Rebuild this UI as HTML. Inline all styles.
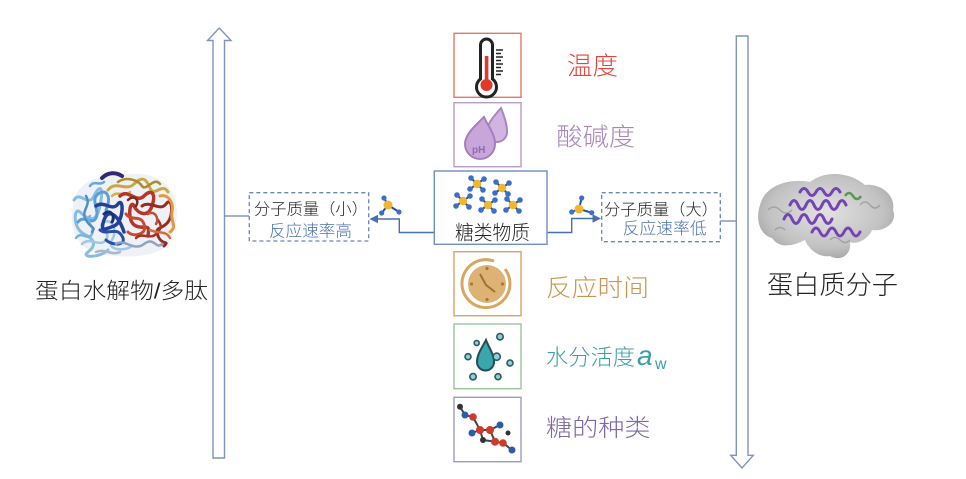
<!DOCTYPE html>
<html><head><meta charset="utf-8">
<style>
html,body{margin:0;padding:0;background:#fff;}
svg{display:block;}
text{font-family:"Liberation Sans","Noto Sans CJK SC",sans-serif;font-weight:300;}
</style></head>
<body>
<svg width="966" height="479" viewBox="0 0 966 479" xmlns="http://www.w3.org/2000/svg">
<defs>
<radialGradient id="gblob" cx="50%" cy="45%" r="60%">
<stop offset="0" stop-color="#e2e2e2"/><stop offset="0.7" stop-color="#c2c2c2"/><stop offset="1" stop-color="#a2a2a2"/>
</radialGradient>
<g id="mol">
<line x1="0" y1="0" x2="-6" y2="-6" stroke="#2b4f95" stroke-width="2"/>
<line x1="0" y1="0" x2="7" y2="-5" stroke="#2b4f95" stroke-width="2"/>
<line x1="0" y1="0" x2="-7" y2="5" stroke="#2b4f95" stroke-width="2"/>
<line x1="0" y1="0" x2="6" y2="6" stroke="#2b4f95" stroke-width="2"/>
<circle cx="0" cy="0" r="4.2" fill="#f0b632"/>
<circle cx="-6" cy="-6" r="2.8" fill="#3c6fc6"/>
<circle cx="7" cy="-5" r="2.8" fill="#3c6fc6"/>
<circle cx="-7" cy="5" r="2.8" fill="#3c6fc6"/>
<circle cx="6" cy="6" r="2.8" fill="#3c6fc6"/>
</g>
</defs>

<!-- big arrows -->
<path d="M213,458 L213,40.5 L207.5,40.5 L219.3,28 L231,40.5 L224.5,40.5 L224.5,458 Z" fill="#fff" stroke="#7f92c4" stroke-width="1.4"/>
<path d="M736.3,36 L748,36 L748,455.3 L753.3,455.3 L742,468 L730.7,455.3 L736.3,455.3 Z" fill="#fff" stroke="#7f92c4" stroke-width="1.4"/>

<!-- connectors to arrows -->
<line x1="224.5" y1="216" x2="249" y2="216" stroke="#6a85b8" stroke-width="1.3"/>
<line x1="720" y1="221" x2="736.3" y2="221" stroke="#6a85b8" stroke-width="1.3"/>

<!-- dashed boxes -->
<rect x="249.3" y="192.7" width="119.4" height="48.3" fill="#fff" stroke="#6a85b8" stroke-width="1.3" stroke-dasharray="4,3"/>
<rect x="601.7" y="192.7" width="118.6" height="49" fill="#fff" stroke="#6a85b8" stroke-width="1.3" stroke-dasharray="4,3"/>
<text x="254" y="214.4" font-size="16" fill="#222" textLength="114" lengthAdjust="spacingAndGlyphs">分子质量（小）</text>
<text x="269" y="236.3" font-size="16.5" fill="#4a6fb0" textLength="83" lengthAdjust="spacingAndGlyphs">反应速率高</text>
<text x="604" y="215" font-size="16" fill="#222" textLength="114" lengthAdjust="spacingAndGlyphs">分子质量（大）</text>
<text x="622.7" y="234" font-size="16.5" fill="#4a6fb0" textLength="84" lengthAdjust="spacingAndGlyphs">反应速率低</text>

<!-- center connectors -->
<polyline points="434.3,232.5 399.3,232.5 399.3,219 376,219" fill="none" stroke="#4a6fb0" stroke-width="1.4"/>
<polygon points="369.5,219 378,214.8 378,223.2" fill="#4a6fb0"/>
<polyline points="547,232.5 571.7,232.5 571.7,218.5 594,218.5" fill="none" stroke="#4a6fb0" stroke-width="1.4"/>
<polygon points="601,218.5 592.5,214.3 592.5,222.7" fill="#4a6fb0"/>

<!-- small molecules near arrows -->
<g stroke="#2b4f95" stroke-width="2">
<line x1="388" y1="205" x2="384" y2="198"/><line x1="388" y1="205" x2="381.7" y2="213"/><line x1="388" y1="205" x2="399" y2="212"/>
<line x1="579" y1="209" x2="581.7" y2="198"/><line x1="579" y1="209" x2="571.7" y2="212"/><line x1="579" y1="209" x2="591.7" y2="212.7"/>
</g>
<circle cx="388" cy="205" r="4.5" fill="#f0b632"/>
<circle cx="384" cy="198" r="2.6" fill="#3c6fc6"/><circle cx="381.7" cy="213" r="2.6" fill="#3c6fc6"/><circle cx="399" cy="212" r="2.6" fill="#3c6fc6"/>
<circle cx="579" cy="209" r="4.5" fill="#f0b632"/>
<circle cx="581.7" cy="198" r="2.6" fill="#3c6fc6"/><circle cx="571.7" cy="212" r="2.6" fill="#3c6fc6"/><circle cx="591.7" cy="212.7" r="2.6" fill="#3c6fc6"/>

<!-- center box -->
<rect x="434.3" y="171" width="112.7" height="73.3" fill="#fff" stroke="#6f8fc0" stroke-width="1.4"/>
<use href="#mol" x="477" y="184"/>
<use href="#mol" x="502" y="188"/>
<use href="#mol" x="463" y="201"/>
<use href="#mol" x="488" y="205"/>
<use href="#mol" x="513" y="205"/>
<text x="455" y="239.3" font-size="20" fill="#222" textLength="75" lengthAdjust="spacingAndGlyphs">糖类物质</text>

<!-- temperature box -->
<rect x="454" y="33.3" width="67" height="64" fill="#fff" stroke="#e07a68" stroke-width="1.4"/>
<path d="M480.5,79 V45 a6,6 0 0 1 12,0 V79 a10,10 0 1 1 -12,0 Z" fill="#fff" stroke="#222" stroke-width="3"/>
<rect x="484.8" y="56" width="3.6" height="26" fill="#e0392a"/>
<circle cx="486.5" cy="85" r="6" fill="#e0392a"/>
<g stroke="#222" stroke-width="1.5">
<line x1="496" y1="50" x2="503" y2="50"/><line x1="496" y1="53.5" x2="501" y2="53.5"/><line x1="496" y1="57" x2="503" y2="57"/>
<line x1="496" y1="60.5" x2="501" y2="60.5"/><line x1="496" y1="64" x2="503" y2="64"/><line x1="496" y1="67.5" x2="501" y2="67.5"/>
<line x1="496" y1="71" x2="503" y2="71"/><line x1="496" y1="74.5" x2="501" y2="74.5"/>
</g>
<text x="567" y="74.5" font-size="25" fill="#e0453a" textLength="51" lengthAdjust="spacingAndGlyphs">温度</text>

<!-- pH box -->
<rect x="454" y="102.7" width="67" height="64" fill="#fff" stroke="#b89cc8" stroke-width="1.4"/>
<path d="M501,108 C504,116 507,123 507,132 a10,10 0 0 1 -20,0 C487,123 495,115 501,108 Z" fill="#d2b4e0" stroke="#a985c2" stroke-width="2"/>
<path d="M484,117 C488,126 495,134 495,144 a15,15 0 0 1 -30,0 C465,134 476,125 484,117 Z" fill="#c9a6da" stroke="#a37fc0" stroke-width="2"/>
<text x="472" y="153" font-size="10" font-weight="bold" fill="#8e6aae" style="font-weight:bold">pH</text>
<text x="556.5" y="145.5" font-size="25" fill="#a786bd" textLength="78.5" lengthAdjust="spacingAndGlyphs">酸碱度</text>

<!-- clock box -->
<rect x="454" y="251.7" width="67" height="64" fill="#fff" stroke="#d4a566" stroke-width="1.4"/>
<path d="M505,269 A24,24 0 1 1 494,261" fill="none" stroke="#d8a65e" stroke-width="3"/>
<circle cx="487" cy="284" r="19" fill="#ddb274"/>
<g fill="#a87a3a"><circle cx="487" cy="268.5" r="1.6"/><circle cx="502.5" cy="284" r="1.6"/><circle cx="487" cy="299.5" r="1.6"/><circle cx="471.5" cy="284" r="1.6"/></g>
<path d="M480,274 L486,285 L495,292" fill="none" stroke="#a0702e" stroke-width="2"/>
<text x="546" y="295.8" font-size="24" fill="#c9964e" textLength="103" lengthAdjust="spacingAndGlyphs">反应时间</text>

<!-- water box -->
<rect x="454" y="324" width="67" height="64.7" fill="#fff" stroke="#9cc49a" stroke-width="1.4"/>
<path d="M486,340 C489,348 494,354 494,362 a8.5,8.5 0 0 1 -17,0 C477,354 482,348 486,340 Z" fill="#3aa7ac" stroke="#254f55" stroke-width="2"/>
<g fill="#8fd0d2" stroke="#2a5a60" stroke-width="1.6">
<circle cx="500" cy="336.7" r="3.2"/><circle cx="476.7" cy="343" r="2.5"/><circle cx="468" cy="356.7" r="3"/>
<circle cx="510" cy="363" r="3"/><circle cx="473" cy="376.7" r="3.2"/><circle cx="498" cy="376.7" r="3"/><circle cx="496.7" cy="356.7" r="3.6"/>
</g>
<text x="546" y="365" font-size="22" fill="#3a9fa6" textLength="89" lengthAdjust="spacingAndGlyphs">水分活度</text>
<text x="637" y="365" font-size="28" font-style="italic" fill="#3a9fa6" style="font-weight:normal">a</text>
<text x="655" y="369" font-size="16" fill="#3a9fa6" style="font-weight:normal">w</text>

<!-- sugar box -->
<rect x="454" y="397.3" width="67" height="64.4" fill="#fff" stroke="#9f9cc0" stroke-width="1.4"/>
<g stroke="#444" stroke-width="2" fill="none">
<polyline points="460,406.7 465,415 473,417 480,430 490,430 500,425"/>
<polyline points="480,430 472,433"/><polyline points="480,430 483,440 495,441.7 503,443 512,450"/><polyline points="490,430 495,441.7"/>
</g>
<g>
<circle cx="460" cy="406.7" r="3" fill="#333"/><circle cx="465" cy="415" r="3.5" fill="#2b5ca8"/><circle cx="473" cy="417" r="3.8" fill="#d03a2a"/>
<circle cx="480" cy="430" r="4" fill="#d03a2a"/><circle cx="472" cy="433" r="3.5" fill="#2b5ca8"/><circle cx="490" cy="430" r="4" fill="#d03a2a"/>
<circle cx="500" cy="425" r="3.5" fill="#2b5ca8"/><circle cx="495" cy="441.7" r="4" fill="#d03a2a"/><circle cx="503" cy="443" r="3.8" fill="#d03a2a"/>
<circle cx="512" cy="450" r="3.5" fill="#2b5ca8"/><circle cx="483" cy="440" r="3" fill="#333"/><circle cx="508" cy="433" r="2.5" fill="#333"/>
</g>
<text x="546" y="435.8" font-size="24" fill="#7e67a8" textLength="104.5" lengthAdjust="spacingAndGlyphs">糖的种类</text>

<!-- left protein -->
<path d="M74,200 C78,182 100,174 120,176 C140,170 166,176 174,196 C180,214 176,236 164,248 C150,258 120,258 100,254 C80,250 70,232 72,214 Z" fill="#eef2f6"/>
<g fill="none" stroke-linecap="round" stroke-linejoin="round">
<path d="M74,200 C80,190 88,208 94,196 S104,186 100,206 S86,218 80,212 S72,228 84,234 S96,246 88,252 S100,258 108,250" stroke="#86bde0" stroke-width="3"/>
<path d="M78,222 C84,214 92,226 96,218 S90,200 98,194 S112,196 106,210" stroke="#5e9fd2" stroke-width="3"/>
<path d="M76,238 C82,230 88,242 92,234 S84,222 90,216" stroke="#7ab3dc" stroke-width="2.5"/>
<path d="M82,244 C90,236 100,248 106,240 S96,226 104,222 S118,230 112,240 S124,252 132,246" stroke="#9fc8e6" stroke-width="2.5"/>
<path d="M86,196 C92,206 80,210 86,220 S96,226 92,232" stroke="#4f8fc6" stroke-width="2.5"/>
<path d="M96,206 C104,200 112,212 118,204 S124,222 114,226 S100,232 104,220 S118,214 124,232" stroke="#24409a" stroke-width="3.5"/>
<path d="M100,230 C108,236 116,226 122,236 S112,246 106,240" stroke="#2a4fa8" stroke-width="3"/>
<path d="M104,214 C110,208 116,216 112,222" stroke="#1a2f7a" stroke-width="3"/>
<path d="M102,178 C108,172 116,172 122,176" stroke="#2e2a78" stroke-width="4"/>
<path d="M108,190 C116,180 126,192 134,184 S146,178 150,188 S162,182 168,192" stroke="#c9a843" stroke-width="3"/>
<path d="M118,182 C126,176 138,180 142,186 S154,176 160,184" stroke="#b08a30" stroke-width="2.5"/>
<path d="M112,196 C118,190 124,198 130,192" stroke="#d2b24c" stroke-width="2.5"/>
<path d="M120,196 C128,188 136,204 144,196 S156,194 152,206 S138,214 134,206 S126,222 136,226 S150,222 148,236" stroke="#b8352a" stroke-width="3.5"/>
<path d="M142,206 C150,200 160,212 166,204 S174,214 168,222 S154,226 158,236 S170,240 164,246" stroke="#9c2a20" stroke-width="3"/>
<path d="M126,214 C132,222 140,214 144,224 S134,238 128,232" stroke="#c84a30" stroke-width="3"/>
<path d="M136,238 C142,232 150,240 156,234 S162,226 158,220" stroke="#a83024" stroke-width="2.5"/>
<path d="M160,196 C168,194 174,202 172,212 S178,226 170,232" stroke="#e09a40" stroke-width="3"/>
<path d="M150,230 C158,234 166,230 170,238" stroke="#d86a3a" stroke-width="2.5"/>
<path d="M116,244 C124,238 134,252 144,244 S156,250 162,244" stroke="#8fa4c4" stroke-width="2.5"/>
<path d="M96,252 C104,248 112,256 120,252" stroke="#a8b8cc" stroke-width="2.5"/>
<path d="M90,186 C94,180 100,186 104,182" stroke="#6aa8d6" stroke-width="2.5"/>
<path d="M128,200 C134,194 140,200 136,206" stroke="#7a2a1e" stroke-width="2.5"/>
<path d="M148,214 C154,210 160,218 156,224" stroke="#c0503a" stroke-width="2.5"/>
</g>

<!-- right protein -->
<path d="M760,205 C765,185 790,178 810,182 C825,170 850,172 865,185 C880,183 896,195 893,210 C898,222 885,232 872,230 C868,240 855,245 850,242 C852,255 840,262 830,256 C818,258 808,248 805,240 C795,245 780,250 772,238 C760,235 755,220 760,205 Z" fill="url(#gblob)"/>
<g fill="none" stroke="#8a8a8a" stroke-width="1.5" opacity="0.6">
<path d="M768,210 q6,-6 12,0 t12,0"/><path d="M830,240 q5,-5 10,0 t10,0"/><path d="M860,205 q5,-6 10,0 t10,0"/><path d="M775,230 q5,-5 10,0"/>
</g>
<g fill="none" stroke="#7444b4" stroke-width="3" stroke-linecap="round">
<path d="M790,205 q4,-9 8,0 t8,0 t8,0 t8,0 t8,0 t8,0 t8,0"/>
<path d="M784,219 q4,-9 8,0 t8,0 t8,0 t8,0 t8,0 t8,0"/>
<path d="M812,232 q4,-8 8,0 t8,0 t8,0 t8,0 t8,0 t8,0"/>
<path d="M800,192 q4,-7 8,0 t8,0 t8,0 t8,0 t8,0"/>
</g>
<path d="M845,196 q4,-6 8,0 t8,0" fill="none" stroke="#5a9a50" stroke-width="2.5"/>

<!-- side labels -->
<text x="35" y="298.4" font-size="22" fill="#222" textLength="173" lengthAdjust="spacingAndGlyphs">蛋白水解物/多肽</text>
<text x="767" y="294" font-size="26" fill="#222" textLength="131" lengthAdjust="spacingAndGlyphs">蛋白质分子</text>
</svg>
</body></html>
